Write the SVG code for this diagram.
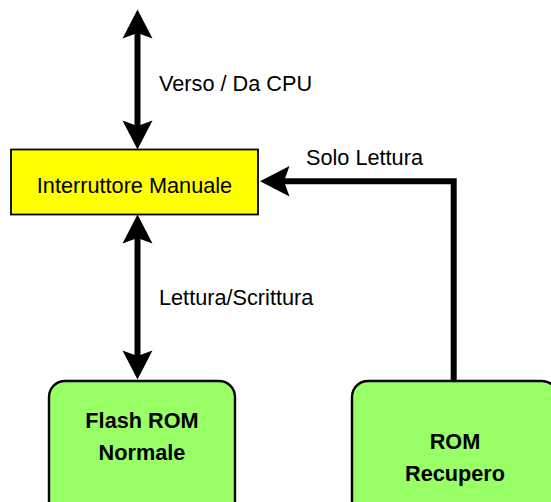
<svg xmlns="http://www.w3.org/2000/svg" width="551" height="502" viewBox="0 0 551 502">
<style>
.lbl{font-family:"Liberation Sans",Arial,sans-serif;font-size:21.7px;fill:#000}
.bold{font-weight:bold;text-anchor:middle}
.green{fill:#99FF66;stroke:#000;stroke-width:2.4}
.wire{fill:none;stroke:#000;stroke-width:6}
.head{fill:#000;stroke:none}
</style>
<rect width="551" height="502" fill="#fff"/>
<g id="connectors">
  <g id="cpu-link">
    <line class="wire" x1="137.5" y1="32" x2="137.5" y2="127"/>
    <path class="head" d="M137.5,9.5 L152.5,38.5 L137.5,33 L122.5,38.5 Z"/>
    <path class="head" d="M137.5,149.5 L152.5,120.5 L137.5,126 L122.5,120.5 Z"/>
    <text class="lbl" x="159" y="90.5">Verso / Da CPU</text>
  </g>
  <g id="flash-link">
    <line class="wire" x1="137.5" y1="236" x2="137.5" y2="357"/>
    <path class="head" d="M137.5,214.5 L152.5,243.5 L137.5,238 L122.5,243.5 Z"/>
    <path class="head" d="M137.5,379.5 L152.5,350.5 L137.5,356 L122.5,350.5 Z"/>
    <text class="lbl" x="159" y="305">Lettura/Scrittura</text>
  </g>
  <g id="rom-link">
    <polyline class="wire" points="453.7,381 453.7,181.3 282,181.3"/>
    <path class="head" d="M260,181.3 L289.5,166 L284,181.3 L289.5,196.5 Z"/>
    <text class="lbl" x="306" y="165">Solo Lettura</text>
  </g>
</g>
<g id="switch">
  <rect x="11" y="149.5" width="247" height="65" fill="#FFFF00" stroke="#000" stroke-width="1.8"/>
  <text class="lbl" x="134.5" y="192.7" text-anchor="middle">Interruttore Manuale</text>
</g>
<g id="flash">
  <rect class="green" x="49" y="381" width="186" height="140" rx="16"/>
  <text class="lbl bold" x="142" y="428">Flash ROM</text>
  <text class="lbl bold" x="142" y="460">Normale</text>
</g>
<g id="recovery">
  <rect class="green" x="352" y="381" width="206" height="140" rx="16"/>
  <text class="lbl bold" x="455" y="449">ROM</text>
  <text class="lbl bold" x="455" y="481">Recupero</text>
</g>
</svg>
